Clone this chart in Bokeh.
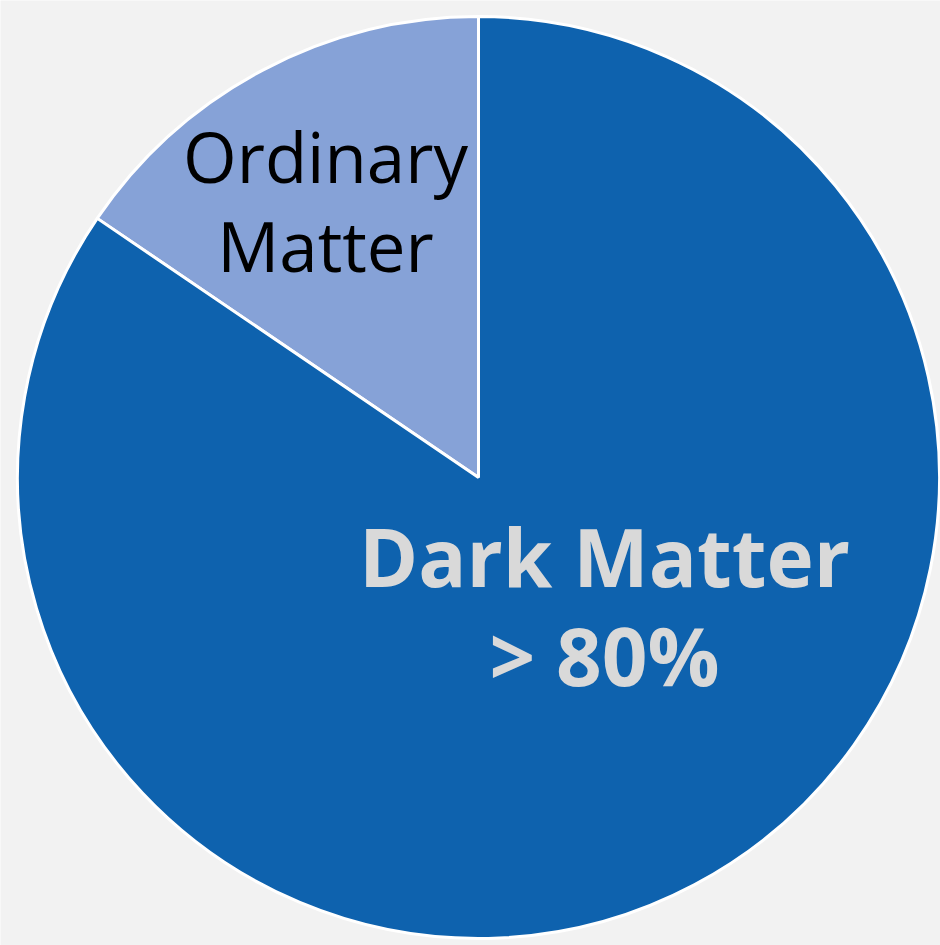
import numpy as np
from bokeh.plotting import figure
from bokeh.models import Range1d, ColumnDataSource
from bokeh.core.properties import value
from bokeh.embed import file_html
from bokeh.resources import INLINE

# ---- data ----
categories = ["Ordinary Matter", "Dark Matter"]
shares = [15.5, 84.5]
label_lines = [["Ordinary", "Matter"], ["Dark Matter", "> 80%"]]

# ---- styles / layout ----
colors = ["#86A2D7", "#0E62AE"]
text_colors = ["#000000", "#D9D9D9"]
text_styles = ["normal", "bold"]
text_sizes = ["69px", "80px"]
W, H = 940, 945
cx, cy, R = 478, H - 477, 461
# label anchor (centre x, first line y in pixel coords) and line spacing
label_anchor = [(325, 155, 89), (604, 555, 99)]

total = sum(shares)
fracs = np.array(shares) / total
ends = np.cumsum(fracs) * 2 * np.pi
starts = np.concatenate([[0], ends[:-1]])
offset = np.pi / 2
src = ColumnDataSource(dict(
    start=starts + offset,
    end=ends + offset,
    color=colors,
    cat=categories,
))

p = figure(width=W, height=H, output_backend="svg", toolbar_location=None,
           x_range=Range1d(0, W), y_range=Range1d(0, H),
           min_border=0, outline_line_color=None,
           background_fill_color="#F2F2F2", border_fill_color="#F2F2F2")
p.axis.visible = False
p.grid.visible = False

p.wedge(x=cx, y=cy, radius=R, start_angle="start", end_angle="end",
        fill_color="color", line_color="white", line_width=3, source=src)

for i, lines in enumerate(label_lines):
    ax, ay, dy = label_anchor[i]
    xs = [ax] * len(lines)
    ys = [H - (ay + k * dy) for k in range(len(lines))]
    p.text(x=xs, y=ys, text=lines, text_align="center", text_baseline="alphabetic",
           text_font=value("Open Sans"), text_font_size=text_sizes[i],
           text_font_style=text_styles[i], text_color=text_colors[i])

open("out.html", "w").write(file_html(p, INLINE))
